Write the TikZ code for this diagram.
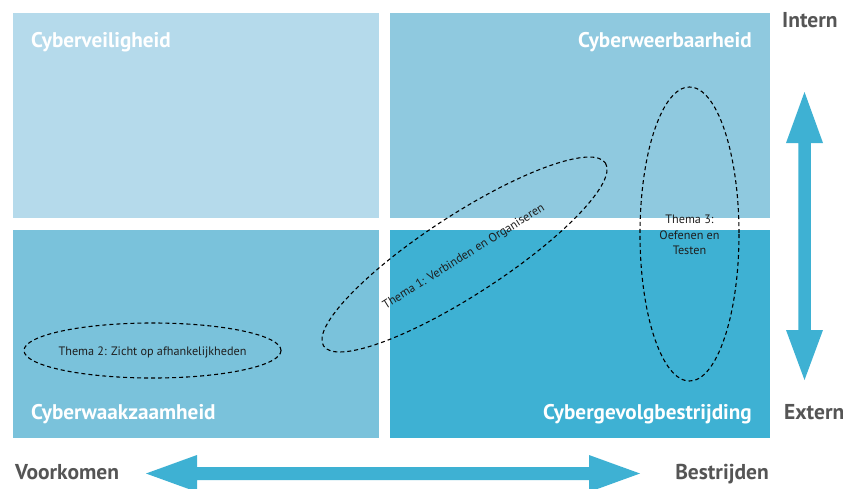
\documentclass[tikz,border=0pt]{standalone}
\usepackage{fontspec}
\setmainfont{PT Sans}
\definecolor{qtl}{HTML}{B5DAEB}
\definecolor{qtr}{HTML}{8FC9DF}
\definecolor{qbl}{HTML}{7AC2DB}
\definecolor{qbr}{HTML}{3EB1D3}
\definecolor{arrowc}{HTML}{3EB1D3}
\definecolor{axisgray}{HTML}{555555}
\definecolor{themetext}{HTML}{1E1E1E}
\begin{document}
\begin{tikzpicture}[x=1pt,y=-1pt,
  quadtitle/.style={text=white,font=\fontsize{21.2}{24}\selectfont\bfseries,inner sep=0pt},
  axislabel/.style={text=axisgray,font=\fontsize{21.5}{24}\selectfont\bfseries,inner sep=0pt},
  thematext/.style={text=themetext,font=\fontsize{12.2}{15.5}\selectfont,inner sep=0pt,align=center},
  themaline/.style={draw=black,line width=1.1pt,dash pattern=on 4pt off 3pt}]
\useasboundingbox (0,0) rectangle (843,488);
% quadrants
\fill[qtl] (13,13) rectangle (379,218);
\fill[qtr] (390,13) rectangle (770,218);
\fill[qbl] (13,230) rectangle (379,438);
\fill[qbr] (390,230) rectangle (770,438);
% titles
\node[quadtitle,anchor=base west] (tl) at (31,47) {Cyberveiligheid};
\node[quadtitle,anchor=base east] (tr) at (752,47) {Cyberweerbaarheid};
\node[quadtitle,anchor=base west] (bl) at (31,419) {Cyberwaakzaamheid};
\node[quadtitle,anchor=base east] (br) at (752,419) {Cybergevolgbestrijding};
% axis labels
\node[axislabel,anchor=base west] (intern) at (782,27) {Intern};
\node[axislabel,anchor=base west] (extern) at (784,419) {Extern};
\node[axislabel,anchor=base west] (voork) at (15,479) {Voorkomen};
\node[axislabel,anchor=base east] (bestr) at (769,479) {Bestrijden};
% arrows
\fill[arrowc] (146,473.5) -- (197,455) -- (197,467) -- (589,467) -- (589,455) -- (640,473.5)
  -- (589,492) -- (589,480) -- (197,480) -- (197,492) -- cycle;
\fill[arrowc] (804.5,92) -- (823,143) -- (810.75,143) -- (810.75,330) -- (823,330) -- (804.5,380)
  -- (786,330) -- (798.25,330) -- (798.25,143) -- (786,143) -- cycle;
% themes
\coordinate (c1) at (464.5,254.5);
\coordinate (c2) at (152.5,350.5);
\coordinate (c3) at (689.5,234);
\draw[themaline,rotate around={33:(c1)}] (c1) ellipse [x radius=168, y radius=40];
\draw[themaline] (c2) ellipse [x radius=128.5, y radius=27.5];
\draw[themaline] (c3) ellipse [x radius=49.5, y radius=147];
\node[thematext,rotate=32] (t1) at (464,257) {Thema 1: Verbinden en Organiseren};
\node[thematext] (t2) at (152.5,352) {Thema 2: Zicht op afhankelijkheden};
\node[thematext] (t3) at (689.5,235) {Thema 3:\\Oefenen en\\Testen};
\end{tikzpicture}
\end{document}
